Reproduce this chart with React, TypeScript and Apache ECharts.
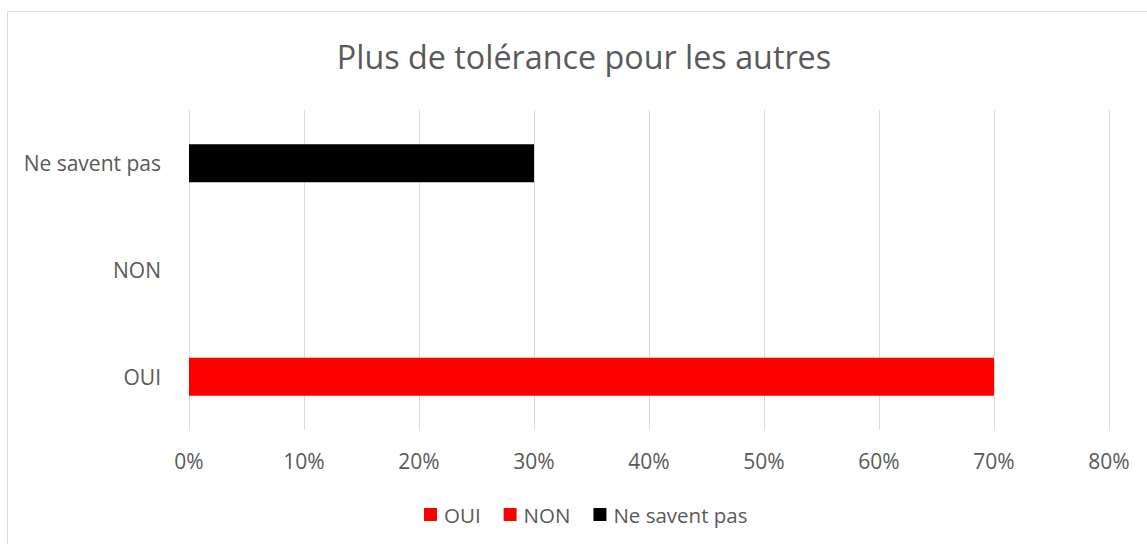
import React, { useEffect, useRef } from "react";
import * as echarts from "echarts";

const categories = ["OUI", "NON", "Ne savent pas"];
const seriesNames = ["OUI", "NON", "Ne savent pas"];
const seriesColors = ["#ff0000", "#ff0000", "#000000"];
const ouiValues = [0.7, null, null];
const nonValues = [null, 0, null];
const nspValues = [null, null, 0.3];
const title = "Plus de tolérance pour les autres";

export default function App() {
  const ref = useRef<HTMLDivElement>(null);
  useEffect(() => {
    if (!ref.current) return;
    const chart = echarts.init(ref.current, null, { renderer: "svg" });
    const font = "Open Sans";
    const data = [ouiValues, nonValues, nspValues];
    chart.setOption({
      animation: false,
      backgroundColor: "#ffffff",
      title: {
        text: title,
        left: 579,
        textAlign: "center",
        top: 35,
        textStyle: { fontFamily: font, fontSize: 32.3, fontWeight: "normal", color: "#595959" },
      },
      graphic: [
        { type: "line", shape: { x1: 7.5, y1: 11.5, x2: 1147, y2: 11.5 }, style: { stroke: "#d9d9d9", lineWidth: 1 } },
        { type: "line", shape: { x1: 7.5, y1: 11.5, x2: 7.5, y2: 544 }, style: { stroke: "#d9d9d9", lineWidth: 1 } },
      ],
      legend: {
        data: seriesNames,
        bottom: 14,
        left: 419,
        itemWidth: 13,
        itemHeight: 13,
        itemGap: 23,
        icon: "rect",
        textStyle: { fontFamily: font, fontSize: 20.5, color: "#595959", padding: [0, 0, 0, 2] },
      },
      grid: { left: 189, right: 38, top: 110, bottom: 114, containLabel: false },
      xAxis: {
        type: "value",
        min: 0,
        max: 0.8,
        interval: 0.1,
        axisLine: { show: false },
        axisTick: { show: false },
        splitLine: { lineStyle: { color: "#d9d9d9", width: 1 } },
        axisLabel: {
          formatter: (v: number) => Math.round(v * 100) + "%",
          fontFamily: font,
          fontSize: 21,
          color: "#595959",
          margin: 20,
        },
      },
      yAxis: {
        type: "category",
        data: categories,
        axisLine: { show: false },
        axisTick: { show: false },
        splitLine: { show: false },
        axisLabel: { fontFamily: font, fontSize: 21, color: "#595959", margin: 28 },
      },
      series: seriesNames.map((name, i) => ({
        name,
        type: "bar",
        stack: "all",
        data: data[i],
        barWidth: 38,
        itemStyle: { color: seriesColors[i] },
      })),
    });
    return () => chart.dispose();
  }, []);
  return (
    <div
      ref={ref}
      style={{ position: "fixed", left: 0, top: 0, width: 1147, height: 544 }}
    />
  );
}
